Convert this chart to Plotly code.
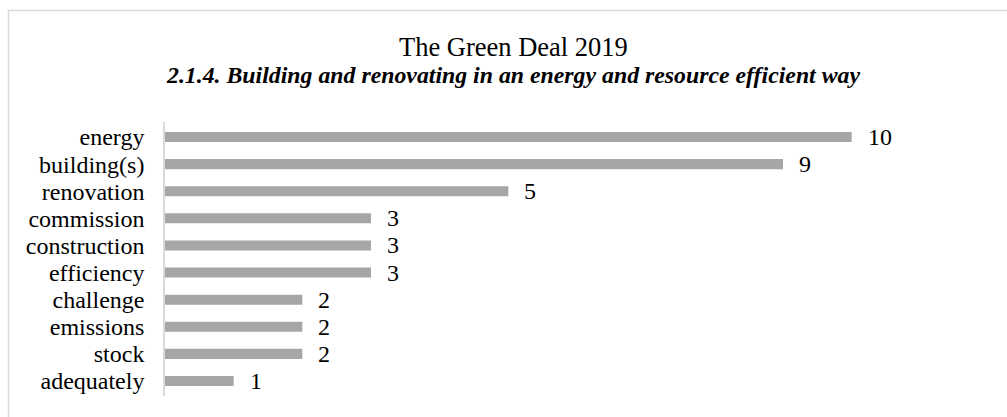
import plotly.graph_objects as go

# Word counts for section 2.1.4 of the Green Deal (top of the list first)
words = ["energy", "building(s)", "renovation", "commission", "construction",
         "efficiency", "challenge", "emissions", "stock", "adequately"]
counts = [10, 9, 5, 3, 3, 3, 2, 2, 2, 1]

title_text = "The Green Deal 2019"
subtitle_text = "2.1.4. Building and renovating in an energy and resource efficient way"

FONT = "Liberation Serif, Times New Roman, serif"
BAR_COLOR = "#a6a6a6"
FRAME_COLOR = "#d9d9d9"

W, H = 1007, 417
M_L, M_R, M_T, M_B = 165, 18, 122, 21
plot_w = W - M_L - M_R
plot_h = H - M_T - M_B


def px_x(px):
    return (px - M_L) / plot_w


def px_y(py):
    return (H - M_B - py) / plot_h


fig = go.Figure(
    go.Bar(
        x=counts,
        y=words,
        orientation="h",
        marker=dict(color=BAR_COLOR, line=dict(width=0)),
        width=0.37,
        hoverinfo="x+y",
    )
)

# value labels to the right of each bar
for w, c in zip(words, counts):
    fig.add_annotation(
        x=c, y=w, xref="x", yref="y", text=str(c), showarrow=False,
        xanchor="left", yanchor="middle", xshift=14,
        font=dict(family=FONT, size=24, color="#000000"),
    )

# titles
fig.add_annotation(
    x=px_x(513), y=px_y(47), xref="paper", yref="paper", text=title_text,
    showarrow=False, xanchor="center", yanchor="middle",
    font=dict(family=FONT, size=26.5, color="#000000"),
)
fig.add_annotation(
    x=px_x(513), y=px_y(75), xref="paper", yref="paper",
    text="<b><i>" + subtitle_text + "</i></b>",
    showarrow=False, xanchor="center", yanchor="middle",
    font=dict(family=FONT, size=23.8, color="#000000"),
)

# outer frame of the chart area
fig.add_shape(
    type="rect", xref="paper", yref="paper",
    x0=px_x(8.5), x1=px_x(1030), y0=px_y(10.5), y1=px_y(440),
    line=dict(color=FRAME_COLOR, width=1.5), fillcolor="rgba(0,0,0,0)",
    layer="below",
)

fig.update_layout(
    width=W, height=H,
    margin=dict(l=M_L, r=M_R, t=M_T, b=M_B),
    paper_bgcolor="#ffffff", plot_bgcolor="#ffffff",
    showlegend=False,
    font=dict(family=FONT, color="#000000"),
    xaxis=dict(range=[0, 12], visible=False, fixedrange=True),
    yaxis=dict(
        categoryorder="array", categoryarray=words[::-1],
        tickmode="array", tickvals=words, ticktext=words,
        showline=True, linecolor=FRAME_COLOR, linewidth=1.5,
        ticks="", showgrid=False, zeroline=False,
        tickfont=dict(family=FONT, size=24, color="#000000"),
        ticklabelstandoff=14, fixedrange=True,
    ),
)

fig.write_html("out.html")
